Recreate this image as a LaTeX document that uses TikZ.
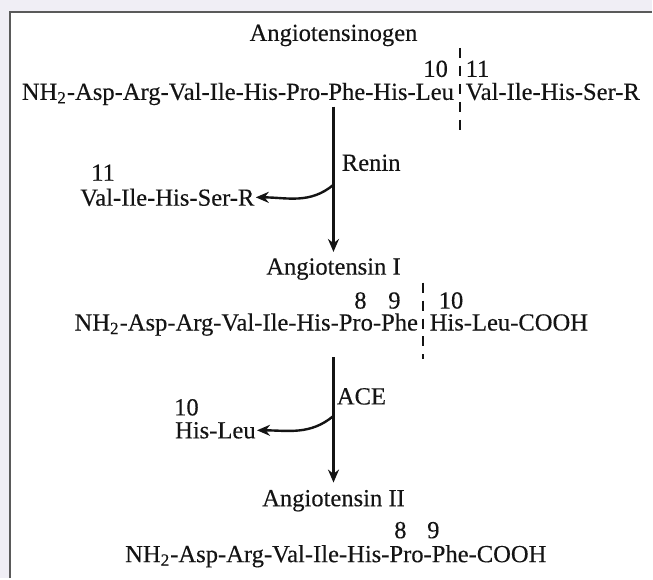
\documentclass[tikz,border=0pt]{standalone}
\usepackage{fontspec}
\setmainfont{Liberation Serif}[FakeBold=0.25]
\usetikzlibrary{arrows.meta, positioning, calc}
\definecolor{pagebg}{HTML}{F0EEF5}
\definecolor{frameline}{HTML}{5A5A5A}
\definecolor{ink}{HTML}{141414}

\begin{document}
\begin{tikzpicture}[
  x=0.5pt, y=-0.5pt,
  seq/.style={inner sep=0.5pt, font=\fontsize{12.3}{14}\selectfont, text=ink},
  num/.style={inner sep=0pt, font=\fontsize{12.3}{14}\selectfont, text=ink},
  enz/.style={inner sep=1pt, font=\fontsize{12.3}{14}\selectfont, text=ink, anchor=west},
  arr/.style={-{Stealth[length=6.5pt, width=5.5pt]}, line width=1.2pt, color=ink},
  cut/.style={dash pattern=on 5pt off 4pt, line width=1.1pt, color=ink}
]
  % Page and frame
  \fill[pagebg] (0,0) rectangle (653,579);
  \fill[white] (10,12) rectangle (653,579);
  \draw[frameline, line width=1pt] (10,579) -- (10,12) -- (653,12);
  \useasboundingbox (0,0) rectangle (653,579);

  % Angiotensinogen
  \node[seq, anchor=base] (ang0) at (334,41) {Angiotensinogen};
  \node[seq, anchor=base east] (ang0a) at (456,100)
    {NH\textsubscript{2}-Asp-Arg-Val-Ile-His-Pro-Phe-His-Leu};
  \node[seq, anchor=base west] (ang0b) at (465,100) {Val-Ile-His-Ser-R};
  \node[num, anchor=base east] (n10a) at (449,77) {10};
  \node[num, anchor=base west] (n11a) at (466,77) {11};
  \draw[cut] (461,48) -- (461,130);

  % Angiotensin I
  \node[seq, anchor=base] (ang1) at (334,275) {Angiotensin I};
  \node[seq, anchor=base east] (ang1a) at (420,331)
    {NH\textsubscript{2}-Asp-Arg-Val-Ile-His-Pro-Phe};
  \node[seq, anchor=base west] (ang1b) at (429,331) {His-Leu-COOH};
  \node[num, anchor=base] (n8a) at (361,309) {8};
  \node[num, anchor=base] (n9a) at (395,309) {9};
  \node[num, anchor=base west] (n10b) at (439,309) {10};
  \draw[cut] (424,283) -- (424,360);

  % Angiotensin II
  \node[seq, anchor=base] (ang2) at (334,507) {Angiotensin II};
  \node[seq, anchor=base west] (ang2a) at (124,563)
    {NH\textsubscript{2}-Asp-Arg-Val-Ile-His-Pro-Phe-COOH};
  \node[num, anchor=base] (n8b) at (401,539) {8};
  \node[num, anchor=base] (n9b) at (434,539) {9};

  % Cleaved fragments
  \node[seq, anchor=base west] (frag1) at (79,206) {Val-Ile-His-Ser-R};
  \node[num, anchor=base west] (n11b) at (91,181) {11};
  \node[seq, anchor=base west] (frag2) at (174,439) {His-Leu};
  \node[num, anchor=base west] (n10c) at (174,416) {10};

  % Enzymes
  \node[enz] (renin) at (340,163) {Renin};
  \node[enz] (ace) at (335,397) {ACE};

  % Reactions
  \draw[arr, shorten >=2.5pt] (ang0a.south -| ang1.north) -- (ang1.north);
  \coordinate (split1) at ($(ang0a.south -| ang1.north)!0.52!(ang1.north)$);
  \draw[arr] (split1) to[out=220, in=0] (frag1.east);

  \draw[arr, shorten <=10pt, shorten >=3pt] (ang1a.south -| ang2.north) -- (ang2.north);
  \coordinate (split2) at ($(ang1a.south -| ang2.north)!0.52!(ang2.north)$);
  \draw[arr] (split2) to[out=220, in=0] (frag2.east);
\end{tikzpicture}
\end{document}
